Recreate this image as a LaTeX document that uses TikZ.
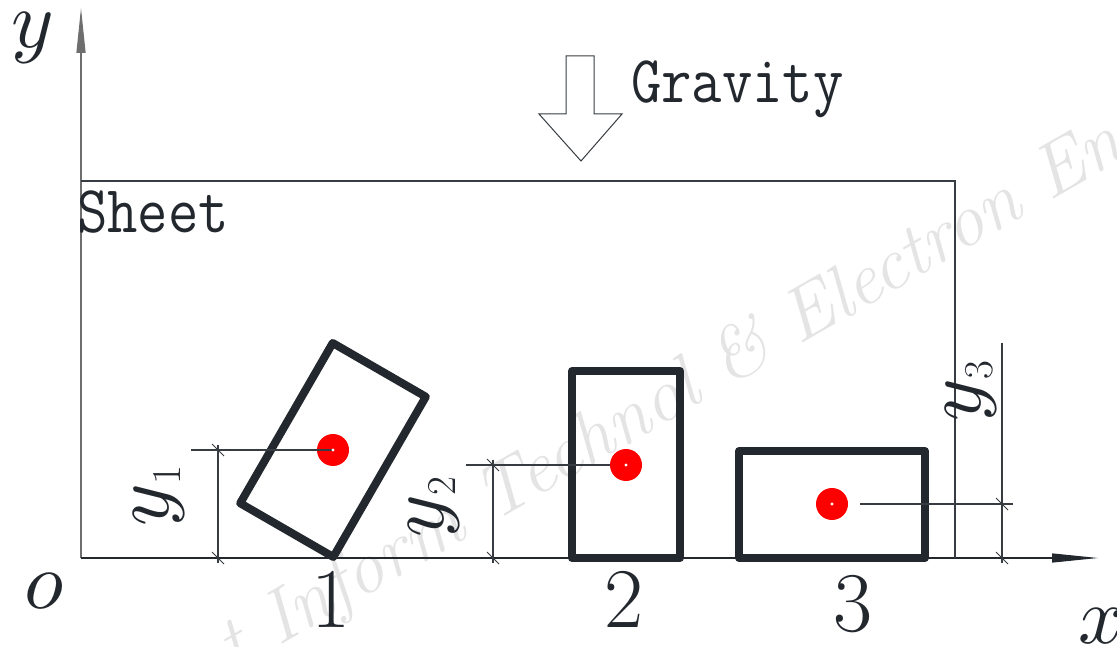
\documentclass[tikz,border=0pt]{standalone}
\usepackage{fontspec}
\DeclareFontShape{OML}{cmm}{m}{it}{<->cmmi10}{}
\usetikzlibrary{arrows.meta}
\definecolor{ink}{RGB}{35,40,47}
\definecolor{thinc}{RGB}{55,60,66}
\definecolor{axisgray}{RGB}{110,110,110}
\definecolor{wmgray}{RGB}{228,228,228}
\definecolor{dotred}{RGB}{255,0,0}
\newcommand{\dimlabel}[1]{{\fontsize{81}{81}\selectfont$y$}\raisebox{-12pt}{\fontsize{41}{41}\selectfont #1}}
\begin{document}
\begin{tikzpicture}[x=1pt,y=1pt,
  thinline/.style={draw=thinc, line width=1.1pt},
  tickline/.style={draw=thinc, line width=1pt},
  boxline/.style={draw=ink, line width=8pt, line join=round, inner sep=0pt, outer sep=0pt},
  dotnode/.style={circle, fill=dotred, minimum size=32pt, inner sep=0pt},
  txt/.style={inner sep=0pt, outer sep=0pt, text=ink},
  bignum/.style={txt, anchor=base, font=\fontsize{85}{85}\selectfont},
  axlabel/.style={txt, font=\fontsize{81}{81}\selectfont},
  sheetfont/.style={txt, anchor=base west, xscale=0.88, font=\ttfamily\fontsize{67}{67}\selectfont}]
\useasboundingbox (0,0) rectangle (1117,646);
\fill[white] (0,0) rectangle (1117,646);
% watermark
\begin{scope}
\clip (0,0) rectangle (1117,646);
\node[anchor=base west, rotate=30, inner sep=0pt, text=wmgray, font=\fontsize{75}{75}\selectfont\itshape] (wmk) at (106,-100) {Front Inform Technol \& Electron Eng};
\end{scope}
% axes
\coordinate (O) at (81,88);
\coordinate (ytip) at (81,638);
\coordinate (xtip) at (1098,88);
\draw[axisgray, line width=1.2pt, -{Triangle[length=45pt,width=9pt]}] (O) -- (ytip);
\draw[ink, line width=1.2pt, -{Triangle[length=46pt,width=9pt]}] (O) -- (xtip);
% sheet
\coordinate (stl) at (81,465);
\coordinate (str) at (955,465);
\coordinate (sbr) at (955,88);
\draw[thinline] (stl) -- (str) -- (sbr);
\node[sheetfont] (sheet) at (77,413) {Sheet};
% gravity arrow
\draw[draw=thinc, line width=1pt, line join=miter] (566,590) -- (594,590) -- (594,532) -- (622,532) -- (581,485) -- (539,532) -- (566,532) -- cycle;
\node[sheetfont] (grav) at (631,543) {Gravity};
% boxes
\node[boxline, rotate=60, minimum width=185pt, minimum height=107.5pt] (b1) at (333,196) {};
\node[boxline, minimum width=108pt, minimum height=187pt] (b2) at (626,181.5) {};
\node[boxline, minimum width=186pt, minimum height=107pt] (b3) at (832,141.5) {};
% y2 extension drawn under its dot
\coordinate (e2) at (466,181);
\draw[thinline] (e2) -- (626,181);
% centroids
\node[dotnode] (c1) at (333,196) {};
\node[dotnode] (c2) at (626,181) {};
\node[dotnode] (c3) at (832,142) {};
% y1 extension drawn over its dot
\coordinate (e1) at (191,196);
\draw[thinline] (e1) -- (c1.center);
\foreach \c in {c1,c2,c3} \fill[white] (\c.center) circle (1.6);
% y3 extension
\coordinate (e3a) at (860,142);
\coordinate (e3b) at (1013,142);
\draw[thinline] (e3a) -- (e3b);
% dimension lines
\draw[thinline] (218,201) -- (218,83);
\draw[thinline] (493,186) -- (493,83);
\draw[thinline] (1002,303) -- (1002,83);
\foreach \px/\py in {218/196, 218/88, 493/181, 493/88, 1002/142, 1002/88}
  \draw[tickline] (\px-6,\py+6) -- (\px+6,\py-6);
% dimension labels
\node[txt, rotate=90, anchor=base] (ly1) at (168,150) {\dimlabel{1}};
\node[txt, rotate=90, anchor=base] (ly2) at (443,139) {\dimlabel{2}};
\node[txt, rotate=90, anchor=base] (ly3) at (980,255) {\dimlabel{3}};
% numbers
\node[bignum] (n1) at (331,19) {1};
\node[bignum] (n2) at (624,19) {2};
\node[bignum] (n3) at (853,15) {3};
% axis labels
\node[axlabel, anchor=base] (olbl) at (44,38) {$o$};
\node[axlabel, anchor=base west] (xlbl) at (1078,3) {$x$};
\node[axlabel, anchor=base west] (ylbl) at (11,598) {$y$};
\end{tikzpicture}
\end{document}
